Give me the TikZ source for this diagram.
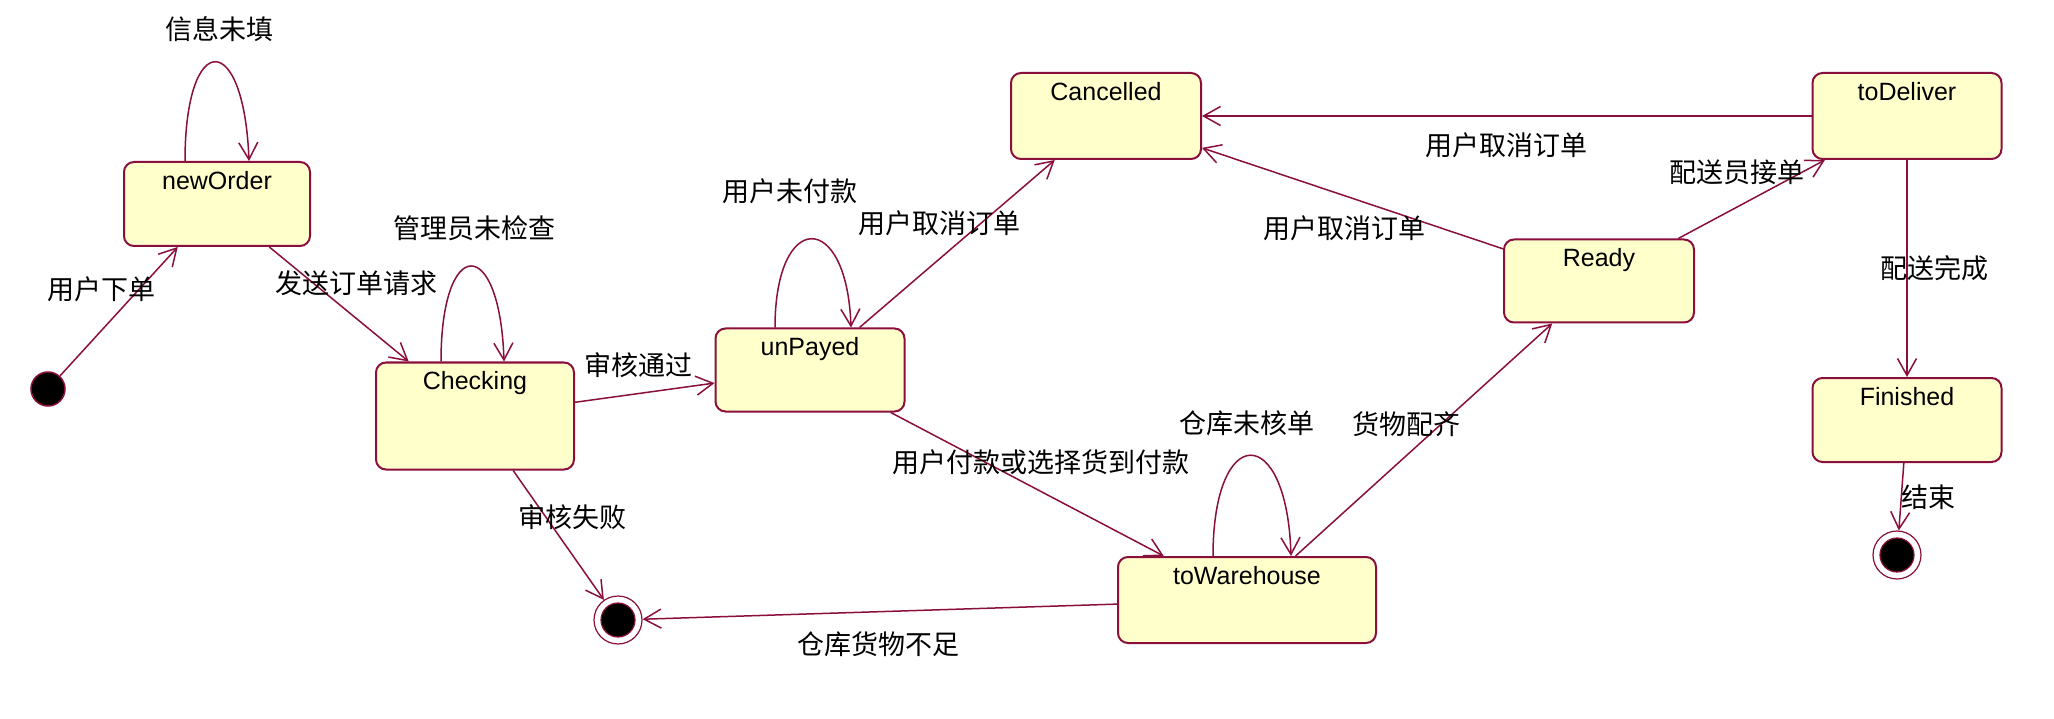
\documentclass[tikz,border=0pt]{standalone}
\usepackage{fontspec}
\setmainfont{Liberation Sans}
\newfontfamily\cjk{Noto Sans CJK SC}
\usepackage{tikz}
\usetikzlibrary{arrows.meta}
\definecolor{linemaroon}{HTML}{8A0F3C}
\definecolor{statefill}{HTML}{FFFFCC}

\begin{document}
\begin{tikzpicture}[x=1pt, y=-1pt,
  state/.style={draw=linemaroon, line width=2pt, rounded corners=10pt, fill=statefill, inner sep=0pt},
  sname/.style={anchor=north, yshift=-11pt, inner sep=0pt, text height=17pt, font=\fontsize{25}{29}\selectfont},
  initdot/.style={circle, draw=linemaroon, line width=1.5pt, fill=black, minimum size=34pt, inner sep=0pt},
  enddot/.style={circle, draw=linemaroon, line width=1.2pt, fill=white, minimum size=48pt, inner sep=0pt,
    path picture={\draw[linemaroon, line width=1.2pt, fill=black] (path picture bounding box.center) circle (17pt);}},
  lbl/.style={font=\cjk\fontsize{27}{31}\selectfont, inner sep=0pt},
  arr/.style={-{Straight Barb[length=17pt, width=19pt]}, line width=1.5pt, linemaroon}
]
  \path[fill=white, use as bounding box] (0,0) rectangle (2054,719);

  \node[state, minimum width=186pt, minimum height=84pt, label={[sname]north:newOrder}] (neworder) at (217,204) {};
  \node[state, minimum width=198pt, minimum height=107pt, label={[sname]north:Checking}] (checking) at (475,416) {};
  \node[state, minimum width=189pt, minimum height=83pt, label={[sname]north:unPayed}] (unpayed) at (810,370) {};
  \node[state, minimum width=190pt, minimum height=86pt, label={[sname]north:Cancelled}] (cancelled) at (1106,116) {};
  \node[state, minimum width=258pt, minimum height=86pt, label={[sname]north:toWarehouse}] (towarehouse) at (1247,600) {};
  \node[state, minimum width=190pt, minimum height=83pt, label={[sname]north:Ready}] (ready) at (1599,281) {};
  \node[state, minimum width=189pt, minimum height=86pt, label={[sname]north:toDeliver}] (todeliver) at (1907,116) {};
  \node[state, minimum width=189pt, minimum height=84pt, label={[sname]north:Finished}] (finished) at (1907,420) {};

  \node[initdot] (start) at (48,389) {};
  \node[enddot] (endfail) at (618,620) {};
  \node[enddot] (enddone) at (1897,555) {};

  \draw[arr] (start) -- (neworder);
  \draw[arr] ([xshift=-32pt]neworder.north) .. controls +(0,-132) and +(-5,-132) .. ([xshift=32pt]neworder.north);
  \draw[arr] (neworder) -- (checking);
  \draw[arr] ([xshift=-34pt]checking.north) .. controls +(0,-127) and +(-4,-127) .. ([xshift=29pt]checking.north);
  \draw[arr] (checking) -- (unpayed);
  \draw[arr] (checking) -- (endfail);
  \draw[arr] ([xshift=-35pt]unpayed.north) .. controls +(0,-118) and +(-4,-118) .. ([xshift=41pt]unpayed.north);
  \draw[arr] (unpayed) -- (cancelled);
  \draw[arr] (unpayed) -- (towarehouse);
  \draw[arr] ([xshift=-34pt]towarehouse.north) .. controls +(0,-134) and +(-4,-134) .. ([xshift=44pt]towarehouse.north);
  \draw[arr] (towarehouse) -- (ready);
  \draw[arr] (towarehouse) -- (endfail);
  \draw[arr] (ready) -- (cancelled);
  \draw[arr] (ready) -- (todeliver);
  \draw[arr] (todeliver) -- (cancelled);
  \draw[arr] (todeliver) -- (finished);
  \draw[arr] (finished) -- (enddone);

  \node[lbl] (lblfill) at (219,29) {信息未填};
  \node[lbl] (lblorder) at (101,289) {用户下单};
  \node[lbl] (lblsend) at (356,283) {发送订单请求};
  \node[lbl] (lblnocheck) at (474,228) {管理员未检查};
  \node[lbl] (lblpass) at (638,365) {审核通过};
  \node[lbl] (lblunpaid) at (790,191) {用户未付款};
  \node[lbl] (lblcancela) at (939,223) {用户取消订单};
  \node[lbl] (lblfail) at (572,517) {审核失败};
  \node[lbl] (lblpay) at (1041,462) {用户付款或选择货到付款};
  \node[lbl] (lblnostock) at (1247,423) {仓库未核单};
  \node[lbl] (lblready) at (1406,424) {货物配齐};
  \node[lbl] (lblshort) at (878,644) {仓库货物不足};
  \node[lbl] (lblcancelb) at (1344,228) {用户取消订单};
  \node[lbl] (lbltake) at (1737,172) {配送员接单};
  \node[lbl] (lblcancelc) at (1506,145) {用户取消订单};
  \node[lbl] (lbldone) at (1934,268) {配送完成};
  \node[lbl] (lblend) at (1928,497) {结束};
\end{tikzpicture}
\end{document}
